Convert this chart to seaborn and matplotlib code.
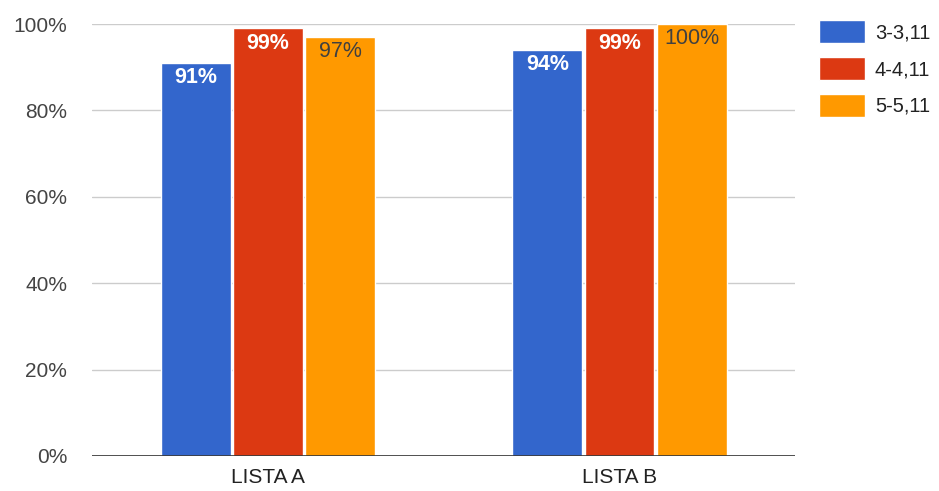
import matplotlib
matplotlib.use("Agg")
import matplotlib.pyplot as plt
import seaborn as sns
import pandas as pd

# Chart data
listas = ["LISTA A", "LISTA B"]
series = ["3-3,11", "4-4,11", "5-5,11"]
serie_3 = [91, 94]
serie_4 = [99, 99]
serie_5 = [97, 100]
colores = ["#3366CC", "#DC3912", "#FF9900"]
yticks = [0, 20, 40, 60, 80, 100]

df = pd.DataFrame({
    "lista": listas * 3,
    "serie": [series[0]] * 2 + [series[1]] * 2 + [series[2]] * 2,
    "valor": serie_3 + serie_4 + serie_5,
})

sns.set_theme(style="white")
plt.rcParams["font.family"] = ["Liberation Sans", "DejaVu Sans"]

fig = plt.figure(figsize=(9.39, 4.91), dpi=100)
ax = fig.add_axes([0.098, 0.0713, 0.749, 0.8797])

sns.barplot(data=df, x="lista", y="valor", hue="serie", order=listas,
            hue_order=series, palette=colores, width=0.615, gap=0.03,
            saturation=1, ax=ax, legend=True)

ax.set_ylim(0, 100)
ax.set_xlim(-0.5, 1.5)
ax.set_yticks(yticks)
ax.set_yticklabels([f"{t}%" for t in yticks])
ax.set_xlabel("")
ax.set_ylabel("")
for s in ax.spines.values():
    s.set_visible(False)
ax.grid(axis="y", color="#cccccc", linewidth=1)
ax.set_axisbelow(True)
ax.axhline(0, color="#333333", linewidth=1.2, zorder=3)
ax.tick_params(axis="y", length=0, pad=18, labelsize=15, labelcolor="#444444")
ax.tick_params(axis="x", length=0, pad=9, labelsize=15, labelcolor="#222222")

# Value labels inside the top of each bar
label_styles = [("white", "bold"), ("white", "bold"), ("#404040", "normal")]
for cont, (col, wt) in zip(ax.containers, label_styles):
    for bar in cont:
        h = bar.get_height()
        ax.annotate(f"{h:.0f}%", (bar.get_x() + bar.get_width() / 2, h),
                    xytext=(0, -3), textcoords="offset points",
                    ha="center", va="top", color=col, fontweight=wt,
                    fontsize=15.5, zorder=5)

sns.move_legend(ax, "upper left", bbox_to_anchor=(1.033, 1.01), frameon=False,
                title=None, fontsize=14.5, handlelength=2.3, handleheight=1.4,
                labelspacing=0.68, handletextpad=0.5, borderaxespad=0,
                borderpad=0)
for t in ax.get_legend().get_texts():
    t.set_color("#222222")

fig.savefig("out.png", dpi=100)
